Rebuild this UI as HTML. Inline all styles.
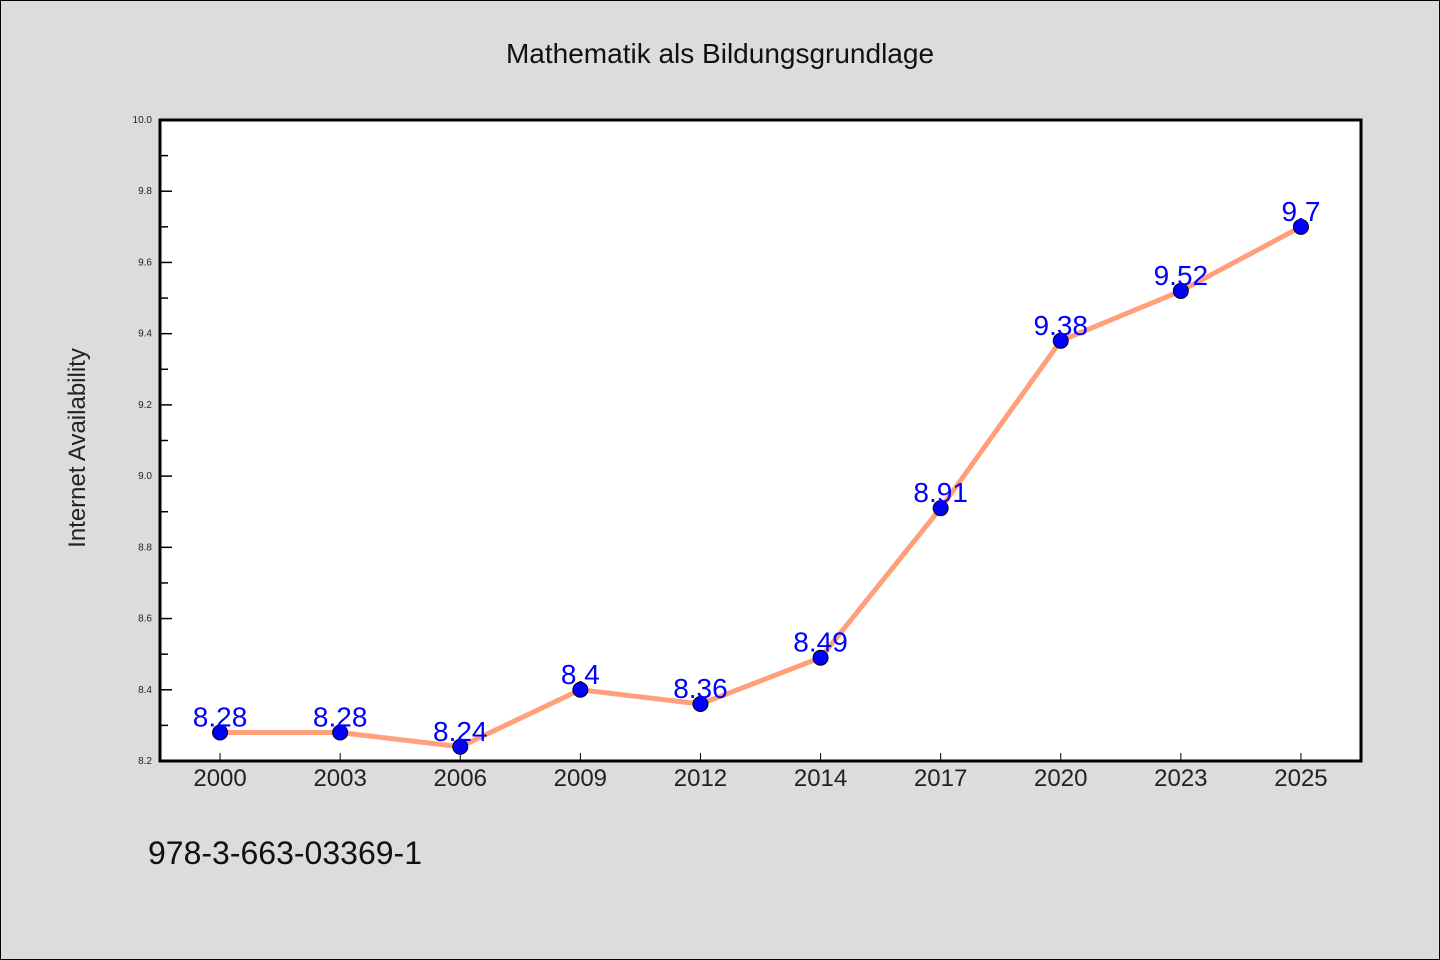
<!DOCTYPE html>
<html><head><meta charset="utf-8"><style>
body{margin:0;background:#dcdcdc}
svg{display:block}
text{font-family:"WenQuanYi Zen Hei","Liberation Sans",sans-serif}
</style></head><body>
<svg width="1440" height="960">
<rect x="0.5" y="0.5" width="1439" height="959" fill="#dcdcdc" stroke="#000"/>
<text x="720" y="63" font-size="28" text-anchor="middle" fill="#111">Mathematik als Bildungsgrundlage</text>
<text transform="translate(85,448) rotate(-90)" font-size="24" text-anchor="middle" fill="#222">Internet Availability</text>
<text x="148" y="864" font-size="32" fill="#111">978-3-663-03369-1</text>
<rect x="160" y="120" width="1201" height="641" fill="#fff"/>
<g id="g"></g>
<rect x="160" y="120" width="1201" height="641" fill="none" stroke="#000" stroke-width="3"/>
</svg>
<script>
const categories=["2000","2003","2006","2009","2012","2014","2017","2020","2023","2025"];
const values=[8.28,8.28,8.24,8.4,8.36,8.49,8.91,9.38,9.52,9.7];
const yTicks=[8.2,8.4,8.6,8.8,9.0,9.2,9.4,9.6,9.8,10.0];
const labels=["8.28","8.28","8.24","8.4","8.36","8.49","8.91","9.38","9.52","9.7"];
const L=160,R=1361,T=120,B=761,yMin=8.2,yMax=10.0;
const g=document.getElementById('g');const NS="http://www.w3.org/2000/svg";
const step=(R-L)/categories.length;
const x=i=>L+step*(i+0.5);
const y=v=>B-(v-yMin)/(yMax-yMin)*(B-T);
function mk(t,a){const e=document.createElementNS(NS,t);for(const k in a)e.setAttribute(k,a[k]);g.appendChild(e);return e;}
yTicks.forEach(v=>{
 const l=mk('line',{x1:L,x2:L+12,y1:y(v),y2:y(v),stroke:'#000','stroke-width':1.5});
 
 
 const t=mk('text',{x:L-8,y:y(v)+3,'font-size':10,'text-anchor':'end',fill:'#222'});t.textContent=v.toFixed(1);
 
 
});
for(let i=0;i<yTicks.length-1;i++){const v=(yTicks[i]+yTicks[i+1])/2;
 const l=mk('line',{x1:L,x2:L+8,y1:y(v),y2:y(v),stroke:'#000','stroke-width':1.5});
 
 }
categories.forEach((c,i)=>{
 const l=mk('line',{x1:x(i),x2:x(i),y1:B,y2:B-8,stroke:'#000','stroke-width':1});
 
 
 const t=mk('text',{x:x(i),y:B+25,'font-size':24,'text-anchor':'middle',fill:'#222'});t.textContent=c;
 
 
});
const p=mk('polyline',{points:values.map((v,i)=>x(i)+','+y(v)).join(' '),fill:'none',stroke:'#ffa07a','stroke-width':5,'stroke-linejoin':'round'});


values.forEach((v,i)=>{
 const c=mk('circle',{cx:x(i),cy:y(v),r:7.5,fill:'#0000ff',stroke:'#000','stroke-width':1});
 
 
 const t=mk('text',{x:x(i),y:y(v)-6,'font-size':28,'text-anchor':'middle',fill:'#0000ff'});t.textContent=labels[i];
 
 
});
</script>
</body></html>
